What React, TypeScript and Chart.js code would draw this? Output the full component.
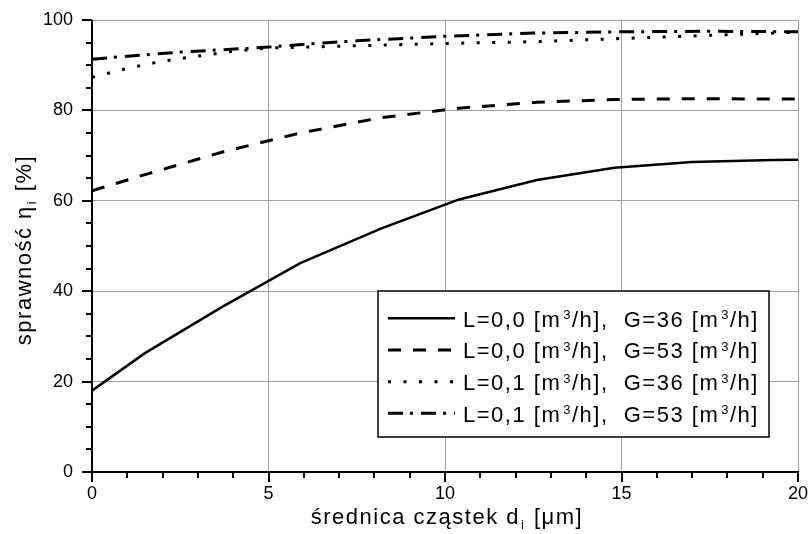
import React, { useEffect, useRef } from 'react';
import { Chart, registerables } from 'chart.js';

Chart.register(...registerables);

// ---- data ----
const xA = [0, 1.5, 3.7, 5.9, 8.2, 10.4, 12.6, 14.8, 17.0, 19.3, 20];
const yL0G36 = [18.0, 26.3, 36.6, 46.2, 53.9, 60.3, 64.6, 67.3, 68.6, 69.0, 69.1];
const yL0G53 = [62.2, 65.8, 70.8, 75.0, 78.4, 80.5, 81.8, 82.4, 82.6, 82.5, 82.5];
const xB = [0, 1, 2, 3, 4, 5, 7.5, 10, 12.5, 15, 17.5, 20];
const yL1G36 = [87.3, 89.3, 90.9, 92.0, 93.1, 93.8, 94.3, 94.8, 95.2, 95.9, 96.6, 97.3];
const xC = [0, 1, 2.5, 5, 6.3, 7.5, 10, 12.5, 15, 17.5, 20];
const yL1G53 = [91.3, 92.0, 92.9, 94.0, 94.8, 95.4, 96.4, 97.1, 97.4, 97.5, 97.4];

const seriesLabels = [
  ['L=0,0 [m', '/h],  G=36 [m', '/h]'],
  ['L=0,0 [m', '/h],  G=53 [m', '/h]'],
  ['L=0,1 [m', '/h],  G=36 [m', '/h]'],
  ['L=0,1 [m', '/h],  G=53 [m', '/h]'],
];
const xTitle = ['średnica cząstek d', 'i', ' [μm]'];
const yTitle = ['sprawność η', 'i', ' [%]'];
const xMajorStep = 5;
const xMinorStep = 1;
const yMajorStep = 20;
const yMinorStep = 5;

const FONT = '"Liberation Sans", Arial, sans-serif';

const pts = (xs: number[], ys: number[]) => xs.map((x, i) => ({ x, y: ys[i] }));

function drawSubText(ctx: CanvasRenderingContext2D, parts: string[], x: number, y: number, size: number) {
  const subSize = Math.round(size * 0.6);
  ctx.font = `${size}px ${FONT}`;
  const w0 = ctx.measureText(parts[0]).width;
  ctx.font = `${subSize}px ${FONT}`;
  const w1 = ctx.measureText(parts[1]).width;
  ctx.font = `${size}px ${FONT}`;
  const w2 = ctx.measureText(parts[2]).width;
  const total = w0 + w1 + 2 + w2;
  let cx = x - total / 2;
  ctx.textAlign = 'left';
  ctx.textBaseline = 'alphabetic';
  ctx.fillText(parts[0], cx, y);
  cx += w0 + 1;
  ctx.font = `${subSize}px ${FONT}`;
  ctx.fillText(parts[1], cx, y + 5);
  cx += w1 + 1;
  ctx.font = `${size}px ${FONT}`;
  ctx.fillText(parts[2], cx, y);
}

const decor = {
  id: 'decor',
  afterDraw(chart: any) {
    const { ctx, chartArea: a, scales } = chart;
    const xs = scales.x;
    const ys = scales.y;
    ctx.save();
    ctx.strokeStyle = '#000';
    ctx.fillStyle = '#000';
    // ticks
    ctx.lineWidth = 2;
    ctx.beginPath();
    for (let v = xs.min; v <= xs.max + 1e-9; v += xMinorStep) {
      const px = Math.round(xs.getPixelForValue(v));
      const len = Math.abs(v % xMajorStep) < 1e-9 ? 10 : 6;
      ctx.moveTo(px, a.bottom);
      ctx.lineTo(px, a.bottom + len);
    }
    for (let v = ys.min; v <= ys.max + 1e-9; v += yMinorStep) {
      const py = Math.round(ys.getPixelForValue(v));
      const len = Math.abs(v % yMajorStep) < 1e-9 ? 10 : 6;
      ctx.moveTo(a.left, py);
      ctx.lineTo(a.left - len, py);
    }
    ctx.stroke();
    // axes
    ctx.lineWidth = 2;
    ctx.beginPath();
    ctx.moveTo(Math.round(a.left), a.top);
    ctx.lineTo(Math.round(a.left), Math.round(a.bottom));
    ctx.lineTo(a.right + 1, Math.round(a.bottom));
    ctx.stroke();

    // axis titles
    ctx.fillStyle = '#000';
    (ctx as any).letterSpacing = '1.5px';
    drawSubText(ctx, xTitle, (a.left + a.right) / 2 + 2, 524, 22);
    ctx.save();
    ctx.translate(31, (a.top + a.bottom) / 2 + 4);
    ctx.rotate(-Math.PI / 2);
    drawSubText(ctx, yTitle, 0, 0, 22);
    ctx.restore();

    // legend
    const bx = a.left + 286;
    const by = a.top + 271;
    const bw = 391;
    const bh = 146;
    ctx.fillStyle = '#fff';
    ctx.fillRect(bx, by, bw, bh);
    ctx.strokeStyle = '#000';
    ctx.lineWidth = 1.5;
    ctx.setLineDash([]);
    ctx.strokeRect(bx, by, bw, bh);
    const rowY = [27.3, 59, 90.7, 122.3];
    chart.data.datasets.forEach((ds: any, i: number) => {
      const cy = by + rowY[i];
      ctx.save();
      ctx.strokeStyle = ds.borderColor;
      ctx.lineWidth = ds.borderWidth;
      ctx.lineCap = 'butt';
      ctx.setLineDash(ds.borderDash || []);
      ctx.beginPath();
      ctx.moveTo(bx + 10, cy);
      ctx.lineTo(bx + 77, cy);
      ctx.stroke();
      ctx.restore();
      const parts = seriesLabels[i];
      ctx.fillStyle = '#000';
      ctx.textAlign = 'left';
      ctx.textBaseline = 'alphabetic';
      (ctx as any).letterSpacing = '1.5px';
      let tx = bx + 85;
      const base = cy + 8.4;
      for (let k = 0; k < parts.length; k++) {
        ctx.font = `22px ${FONT}`;
        ctx.fillText(parts[k], tx, base);
        tx += ctx.measureText(parts[k]).width;
        if (k < parts.length - 1) {
          ctx.font = `13px ${FONT}`;
          tx += 2;
          ctx.fillText('3', tx, base - 7.5);
          tx += ctx.measureText('3').width;
        }
      }
    });
    ctx.restore();
  },
};

export default function App() {
  const ref = useRef<HTMLCanvasElement>(null);
  useEffect(() => {
    if (!ref.current) return;
    const common = { pointRadius: 0, fill: false, tension: 0, borderColor: '#000', showLine: true };
    const chart = new Chart(ref.current, {
      type: 'scatter',
      data: {
        datasets: [
          { ...common, label: 'L=0,0 G=36', data: pts(xA, yL0G36), borderWidth: 2.5, borderDash: [] },
          { ...common, label: 'L=0,0 G=53', data: pts(xA, yL0G53), borderWidth: 3, borderDash: [13, 12] },
          { ...common, label: 'L=0,1 G=36', data: pts(xB, yL1G36), borderWidth: 3, borderDash: [3, 12.5] },
          { ...common, label: 'L=0,1 G=53', data: pts(xC, yL1G53), borderWidth: 3, borderDash: [15, 7, 3, 8] },
        ] as any,
      },
      options: {
        animation: false,
        responsive: true,
        maintainAspectRatio: false,
        layout: { padding: { top: 20, right: 13, left: 0, bottom: 0 } },
        plugins: { legend: { display: false }, tooltip: { enabled: false } },
        scales: {
          x: {
            type: 'linear',
            min: 0,
            max: 20,
            border: { display: false },
            grid: { color: '#a0a0a0', lineWidth: 1, drawTicks: false },
            ticks: { stepSize: xMajorStep, color: '#000', padding: 11, font: { family: FONT, size: 18 }, maxRotation: 0 },
            afterFit: (s: any) => { s.height = 62; s.paddingLeft = 0; s.paddingRight = 0; },
          },
          y: {
            type: 'linear',
            min: 0,
            max: 100,
            border: { display: false },
            grid: { color: '#a0a0a0', lineWidth: 1, drawTicks: false },
            ticks: { stepSize: yMajorStep, color: '#000', padding: 19, font: { family: FONT, size: 18 } },
            afterFit: (s: any) => { s.width = 92; s.paddingTop = 0; s.paddingBottom = 0; },
          },
        },
      },
      plugins: [decor],
    });
    return () => chart.destroy();
  }, []);
  return (
    <div style={{ position: 'absolute', left: 0, top: 0, width: 811, height: 534, background: '#fff' }}>
      <canvas ref={ref} />
    </div>
  );
}
